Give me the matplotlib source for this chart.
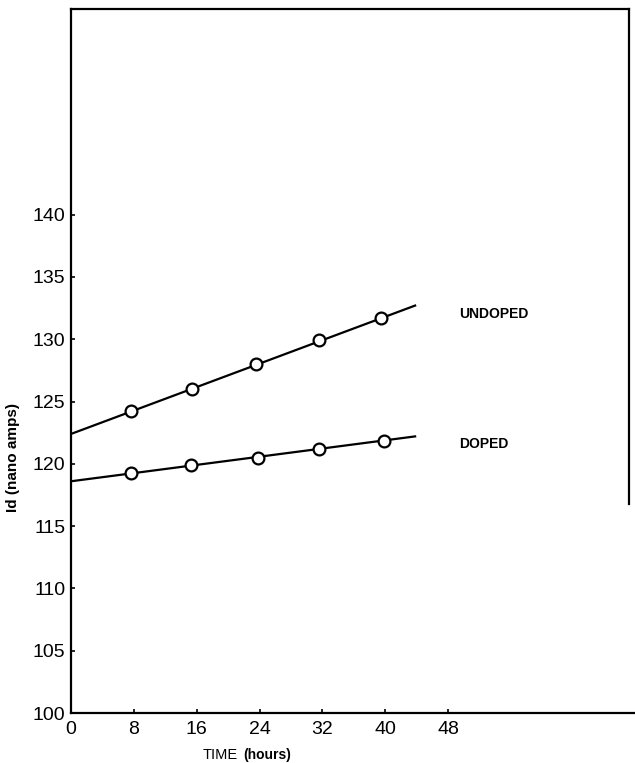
import matplotlib.pyplot as plt

plt.rcParams['font.family'] = ['Liberation Sans', 'DejaVu Sans']

# data
hours_undoped = [7.6, 15.4, 23.5, 31.6, 39.4]
id_undoped = [124.2, 126.0, 128.0, 129.9, 131.7]
hours_doped = [7.6, 15.3, 23.8, 31.5, 39.8]
id_doped = [119.3, 119.9, 120.5, 121.2, 121.8]

# straight fit lines, start and end values
fit_hours = [0, 43.8]
fit_undoped = [122.4, 132.7]
fit_doped = [118.6, 122.2]

x_ticks = [0, 8, 16, 24, 32, 40, 48]
y_ticks = [100, 105, 110, 115, 120, 125, 130, 135, 140]

fig = plt.figure(figsize=(6.35, 7.63), dpi=100)
ax = fig.add_axes([0.112, 0.0655, 0.888, 0.9227])

ax.plot(fit_hours, fit_undoped, color='black', linewidth=1.6, zorder=2)
ax.plot(fit_hours, fit_doped, color='black', linewidth=1.6, zorder=2)
ax.plot(hours_undoped, id_undoped, 'o', markersize=8.5, markerfacecolor='white',
        markeredgecolor='black', markeredgewidth=1.6, zorder=3)
ax.plot(hours_doped, id_doped, 'o', markersize=8.5, markerfacecolor='white',
        markeredgecolor='black', markeredgewidth=1.6, zorder=3)

ax.text(49.4, 132.0, 'UNDOPED', fontsize=10, fontweight='bold', ha='left', va='center')
ax.text(49.4, 121.6, 'DOPED', fontsize=10, fontweight='bold', ha='left', va='center')

ax.set_xlim(0, 71.8)
ax.set_ylim(100, 156.5)
ax.set_xticks(x_ticks)
ax.set_yticks(y_ticks)
ax.tick_params(direction='in', length=3, width=1.2, labelsize=14)
ax.tick_params(axis='x', pad=6)
ax.tick_params(axis='y', pad=4)

for side in ['left', 'bottom', 'top', 'right']:
  ax.spines[side].set_linewidth(1.6)
ax.spines['right'].set_bounds(116.8, 156.5)
ax.spines['right'].set_position(('data', 71.0))
ax.spines['top'].set_bounds(0, 71.0)

fig.text(203 / 635, 1 - 755 / 763, 'TIME', fontsize=10.5, ha='left', va='center')
fig.text(243 / 635, 1 - 755 / 763, '(hours)', fontsize=10, fontweight='bold',
         ha='left', va='center')
fig.text(13 / 635, 1 - 457 / 763, 'Id (nano amps)', fontsize=11, fontweight='bold',
         rotation=90, ha='center', va='center')

fig.savefig('out.png', dpi=100)
